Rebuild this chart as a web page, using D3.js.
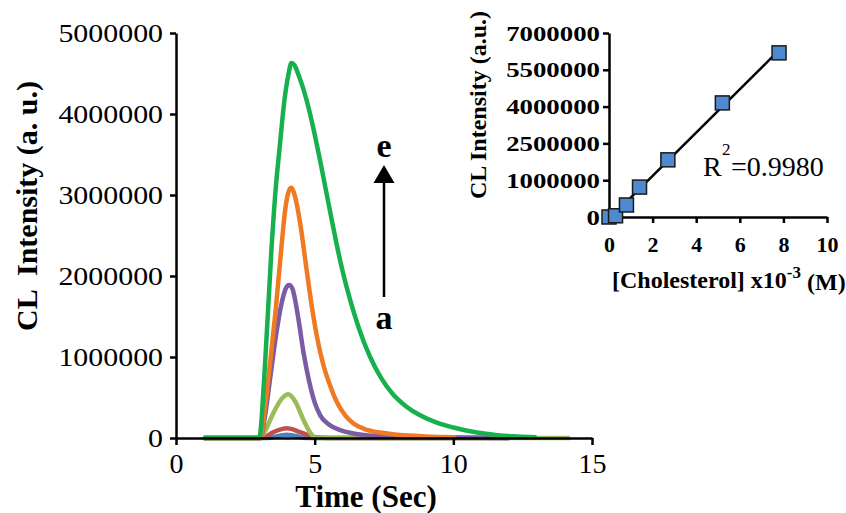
<!DOCTYPE html>
<html>
<head>
<meta charset="utf-8">
<script src="https://cdn.jsdelivr.net/npm/d3@7"></script>
<style>
  body { margin: 0; background: #fff; }
  svg { display: block; font-family: "Liberation Serif", "Times New Roman", serif; }
  svg text { font-family: "Liberation Serif", "Times New Roman", serif; }
</style>
</head>
<body>
<script>
// ---- main panel: CL kinetics, one curve per cholesterol level (a..e) ----
const seriesNames = ["a", "b", "c", "d", "e", "f"];
const seriesColors = ["#4F81BD", "#C0504D", "#9BBB59", "#7B5BA3", "#F07A22", "#16B04F"];

const timeA = [1, 3.3, 3.7, 4.0, 4.3, 4.7, 12];
const intA  = [0, 0, 25000, 40000, 25000, 0, 0];
const timeB = [1, 3.1, 3.5, 4.0, 4.5, 5.0, 5.5, 12];
const intB  = [0, 0, 70000, 120000, 70000, 10000, 0, 0];
const timeC = [1, 3.0, 3.2, 3.5, 3.8, 4.05, 4.3, 4.6, 4.85, 5.05, 6, 14.2];
const intC  = [0, 0, 80000, 300000, 480000, 540000, 450000, 220000, 60000, 0, 0, 0];
const timeD = [1, 3.05, 3.2, 3.4, 3.6, 3.8, 3.95, 4.08, 4.2, 4.4, 4.6, 4.8, 5.0, 5.2, 5.5, 5.9, 6.5, 7.5, 9, 12];
const intD  = [0, 0, 250000, 750000, 1250000, 1650000, 1840000, 1890000, 1840000, 1500000, 1050000, 700000, 440000, 280000, 170000, 100000, 50000, 20000, 10000, 0];
const timeE = [1, 3.05, 3.2, 3.4, 3.6, 3.8, 3.95, 4.05, 4.15, 4.3, 4.5, 4.7, 4.9, 5.1, 5.3, 5.5, 5.7, 5.9, 6.1, 6.4, 6.8, 7.3, 8, 9, 10.1];
const intE  = [0, 0, 350000, 950000, 1600000, 2350000, 2850000, 3030000, 3090000, 2970000, 2600000, 2100000, 1620000, 1220000, 920000, 700000, 520000, 380000, 280000, 180000, 110000, 70000, 40000, 20000, 10000];
const timeF = [1, 3.0, 3.2, 3.44, 3.6, 3.73, 3.91, 4.05, 4.16, 4.28, 4.4, 4.6, 4.8, 5.0, 5.2, 5.4, 5.6, 5.8, 6.0, 6.3, 6.6, 7.0, 7.4, 7.8, 8.3, 8.8, 9.4, 10, 10.8, 11.6, 12.3, 13];
const intF  = [0, 0, 850000, 2320000, 3100000, 3560000, 4170000, 4480000, 4630000, 4600000, 4500000, 4300000, 4050000, 3750000, 3420000, 3070000, 2720000, 2380000, 2070000, 1680000, 1350000, 1000000, 740000, 550000, 390000, 280000, 190000, 130000, 70000, 35000, 20000, 10000];

const mainXTicks = [0, 5, 10, 15];
const mainYTicks = [0, 1000000, 2000000, 3000000, 4000000, 5000000];

// ---- inset: calibration ----
const concValues = [0, 0.3, 0.8, 1.4, 2.7, 5.2, 7.8];
const clValues   = [0, 50000, 490000, 1220000, 2330000, 4650000, 6690000];
const insetXTicks = [0, 2, 4, 6, 8, 10];
const insetYTicks = [0, 1500000, 3000000, 4500000, 6000000, 7500000];
const insetYLabels = ["0", "1000000", "2500000", "4000000", "5500000", "7000000"];
const r2Text = "0.9980";

const times = [timeA, timeB, timeC, timeD, timeE, timeF];
const ints = [intA, intB, intC, intD, intE, intF];

const width = 846, height = 513;
const svg = d3.select("body").append("svg")
  .attr("width", width)
  .attr("height", height);

const x = d3.scaleLinear().domain([0, 15]).range([176, 592]);
const y = d3.scaleLinear().domain([0, 5000000]).range([438, 33]);

// curves
const line = d3.line()
  .x(d => x(d[0]))
  .y(d => y(d[1]))
  .curve(d3.curveMonotoneX);

seriesNames.forEach((name, i) => {
  const pts = times[i].map((t, j) => [t, ints[i][j]]);
  svg.append("path")
    .datum(pts)
    .attr("class", "series-" + name)
    .attr("fill", "none")
    .attr("stroke", seriesColors[i])
    .attr("stroke-width", 4.5)
    .attr("stroke-linejoin", "round")
    .attr("d", line);
});

function styleAxis(g, size, bold) {
  g.attr("font-family", null).attr("font-size", null);
  g.select(".domain").attr("stroke-width", 2.5).attr("stroke", "#000");
  g.selectAll(".tick line").attr("stroke-width", 2.5).attr("stroke", "#000");
  g.selectAll("text")
    .attr("fill", "#000")
    .attr("font-size", size)
    .attr("font-weight", bold ? "bold" : null);
}

// axes
const yAxis = svg.append("g")
  .attr("transform", `translate(${x(0)},0)`)
  .call(d3.axisLeft(y).tickValues(mainYTicks).tickFormat(d3.format("d")).tickSize(6).tickSizeOuter(0).tickPadding(7));
styleAxis(yAxis, 26, false);
yAxis.selectAll("text")
  .attr("x", -13 / 1.15)
  .attr("transform", "scale(1.15,1)");

const xAxis = svg.append("g")
  .attr("transform", `translate(0,${y(0)})`)
  .call(d3.axisBottom(x).tickValues(mainXTicks).tickSize(7).tickSizeOuter(0).tickPadding(8));
styleAxis(xAxis, 28, false);

svg.append("text")
  .attr("transform", "translate(37,206) rotate(-90)")
  .attr("text-anchor", "middle")
  .attr("font-weight", "bold")
  .attr("font-size", 30)
  .style("white-space", "pre")
  .text("CL  Intensity (a. u.)");

svg.append("text")
  .attr("x", 366)
  .attr("y", 507)
  .attr("text-anchor", "middle")
  .attr("font-weight", "bold")
  .attr("font-size", 31)
  .text("Time (Sec)");

// arrow a -> e
const ax = x(7.5);
svg.append("line")
  .attr("x1", ax).attr("x2", ax)
  .attr("y1", 297).attr("y2", 180)
  .attr("stroke", "#000")
  .attr("stroke-width", 2.5);
svg.append("path")
  .attr("d", `M${ax},165 L${ax - 10.5},183 L${ax + 10.5},183 Z`)
  .attr("fill", "#000");
svg.append("text")
  .attr("x", ax).attr("y", 157)
  .attr("text-anchor", "middle")
  .attr("font-weight", "bold")
  .attr("font-size", 34)
  .text(seriesNames[4]);
svg.append("text")
  .attr("x", ax).attr("y", 329)
  .attr("text-anchor", "middle")
  .attr("font-weight", "bold")
  .attr("font-size", 34)
  .text(seriesNames[0]);

// ---- inset ----
const xi = d3.scaleLinear().domain([0, 10]).range([609, 827]);
const yi = d3.scaleLinear().domain([0, 7500000]).range([217, 33]);

const yiAxis = svg.append("g")
  .attr("transform", `translate(${xi(0)},0)`)
  .call(d3.axisLeft(yi).tickValues(insetYTicks).tickFormat((d, i) => insetYLabels[i]).tickSize(6).tickSizeOuter(0).tickPadding(3));
styleAxis(yiAxis, 22, true);
yiAxis.selectAll("text")
  .attr("x", -9 / 1.22)
  .attr("transform", "scale(1.22,1)");

const xiAxis = svg.append("g")
  .attr("transform", `translate(0,${yi(0)})`)
  .call(d3.axisBottom(xi).tickValues(insetXTicks).tickSize(6).tickSizeOuter(0).tickPadding(13));
styleAxis(xiAxis, 22, true);

// least squares fit
const n = concValues.length;
const mx = d3.mean(concValues), my = d3.mean(clValues);
let sxy = 0, sxx = 0;
for (let i = 0; i < n; i++) {
  sxy += (concValues[i] - mx) * (clValues[i] - my);
  sxx += (concValues[i] - mx) * (concValues[i] - mx);
}
const slope = sxy / sxx, icpt = my - slope * mx;
const fitX = [0.2, d3.max(concValues)];
svg.append("line")
  .attr("x1", xi(fitX[0])).attr("y1", yi(slope * fitX[0] + icpt))
  .attr("x2", xi(fitX[1])).attr("y2", yi(slope * fitX[1] + icpt))
  .attr("stroke", "#000")
  .attr("stroke-width", 2.5);

const mk = 14;
svg.selectAll("rect.pt")
  .data(concValues.map((c, i) => [c, clValues[i]]))
  .enter()
  .append("rect")
    .attr("class", "pt")
    .attr("x", d => xi(d[0]) - mk / 2)
    .attr("y", d => yi(d[1]) - mk / 2)
    .attr("width", mk)
    .attr("height", mk)
    .attr("fill", "#4F8AD0")
    .attr("stroke", "#1a1a1a")
    .attr("stroke-width", 1.5);

// R^2
svg.append("text").attr("x", 703).attr("y", 176).attr("font-size", 28).text("R");
svg.append("text").attr("x", 722).attr("y", 155).attr("font-size", 17).text("2");
svg.append("text").attr("x", 731).attr("y", 176).attr("font-size", 28).text("=" + r2Text);

svg.append("text")
  .attr("transform", "translate(486,105) rotate(-90)")
  .attr("text-anchor", "middle")
  .attr("font-weight", "bold")
  .attr("font-size", 24)
  .text("CL Intensity (a.u.)");

const xt = svg.append("text")
  .attr("x", 612)
  .attr("y", 288)
  .attr("font-weight", "bold")
  .attr("font-size", 24);
xt.append("tspan").text("[Cholesterol] x10");
xt.append("tspan").attr("font-size", 17).attr("dy", -10).text("-3");
xt.append("tspan").attr("dy", 12).text(" (M)");
</script>
</body>
</html>
